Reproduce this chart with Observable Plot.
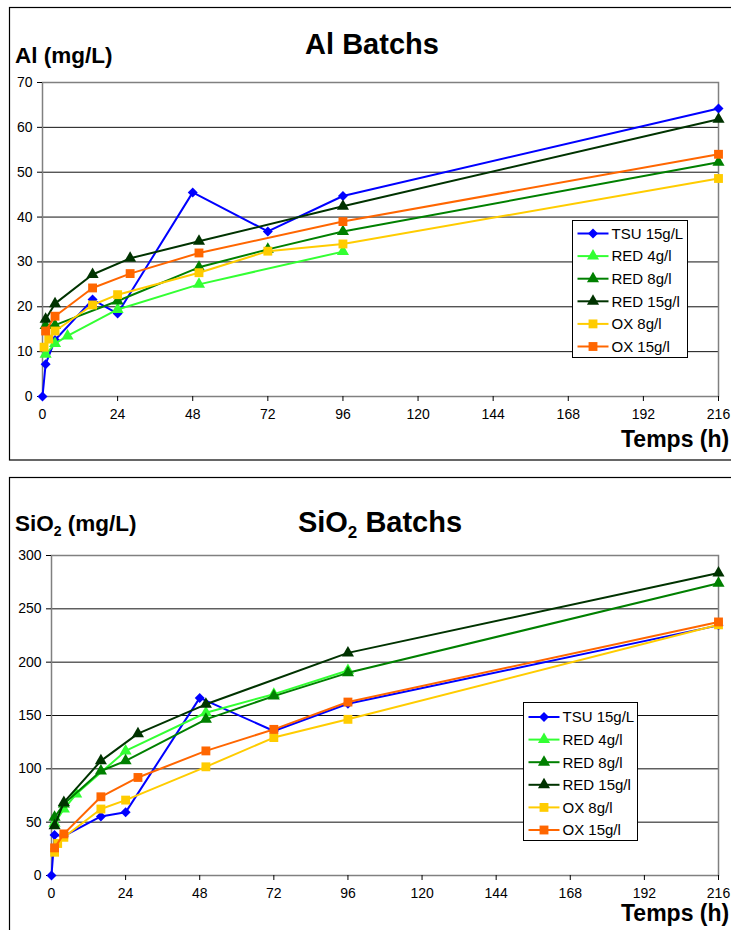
<!DOCTYPE html>
<html><head><meta charset="utf-8">
<script src="https://cdn.jsdelivr.net/npm/d3@7"></script>
<script src="https://cdn.jsdelivr.net/npm/@observablehq/plot@0.6"></script>
<style>
body{margin:0;background:#fff;}
#page{position:relative;width:731px;height:930px;overflow:hidden;font-family:"Liberation Sans",Arial,sans-serif;background:#fff;}
.layer{position:absolute;left:0;}
</style></head><body><div id="page"></div>
<script>
const seriesNames = ["TSU 15g/L","RED 4g/l","RED 8g/l","RED 15g/l","OX 8g/l","OX 15g/l"];
const seriesColors = ["#0000FF","#33FF33","#008000","#003300","#FFCC00","#FF6600"];
const seriesSymbols = ["diamond2","triangle","triangle","triangle","square","square"];
const seriesRadius = [4.5,4.5,4.5,4.5,5,5];
const xTicks = [0,24,48,72,96,120,144,168,192,216];
const alTicks = [0,10,20,30,40,50,60,70];
const siTicks = [0,50,100,150,200,250,300];

// Al (mg/L)
const alTSU_t = [0,1,4,16,24,48,72,96,216];
const alTSU_v = [0,7.2,12.6,21.6,18.5,45.5,36.8,44.7,64.2];
const alRED4_t = [1,4,8,24,50,96];
const alRED4_v = [9.4,11.8,13.5,19.4,25,32.3];
const alRED8_t = [1,4,24,50,72,96,216];
const alRED8_v = [15.8,15.9,21.3,28.8,32.8,36.8,52.2];
const alRED15_t = [1,4,16,28,50,96,216];
const alRED15_v = [17.2,20.7,27.2,30.8,34.6,42.4,61.8];
const alOX8_t = [0.5,2,4,16,24,50,72,96,216];
const alOX8_v = [11,12.8,14.6,20.4,22.7,27.6,32.4,34,48.6];
const alOX15_t = [1,4,16,28,50,96,216];
const alOX15_v = [14.6,17.9,24.2,27.4,32,39,54];

// SiO2 (mg/L)
const siTSU_t = [0,1,4,16,24,48,72,96,216];
const siTSU_v = [0,38,37,55.4,59.2,166.5,135.5,161,234.5];
const siRED4_t = [1,4,8,24,50,72,96];
const siRED4_v = [48.9,62.3,76.3,116.8,152.6,170,192.2];
const siRED8_t = [1,4,16,24,50,72,96,216];
const siRED8_v = [54.5,67,98,107.5,146.4,168.2,190,274];
const siRED15_t = [1,4,16,28,50,96,216];
const siRED15_v = [46.7,68.5,107.5,133,160.5,208.7,283.5];
const siOX8_t = [1,2,4,16,24,50,72,96,216];
const siOX8_v = [21.8,30,35.8,62.3,70.7,101.9,129.3,146.4,235];
const siOX15_t = [1,4,16,28,50,72,96,216];
const siOX15_v = [25.9,39,73.8,91.9,116.8,137,162.6,237.7];

function rowsOf(list) {
  return list.map(([t, v], i) => t.map((tt, j) => ({s: seriesNames[i], t: tt, v: v[j]})));
}
const alRows = rowsOf([[alTSU_t,alTSU_v],[alRED4_t,alRED4_v],[alRED8_t,alRED8_v],[alRED15_t,alRED15_v],[alOX8_t,alOX8_v],[alOX15_t,alOX15_v]]);
const siRows = rowsOf([[siTSU_t,siTSU_v],[siRED4_t,siRED4_v],[siRED8_t,siRED8_v],[siRED15_t,siRED15_v],[siOX8_t,siOX8_v],[siOX15_t,siOX15_v]]);

function makeChart(groups, yTicks, o) {
  const ymax = yTicks[yTicks.length - 1];
  const seriesMarks = [];
  groups.forEach((rows, i) => {
    seriesMarks.push(Plot.line(rows, {x: "t", y: "v", stroke: seriesColors[i], strokeWidth: 2}));
    seriesMarks.push(Plot.dot(rows, {x: "t", y: "v", fill: seriesColors[i], symbol: seriesSymbols[i], r: seriesRadius[i], stroke: "none"}));
  });
  return Plot.plot({
    width: 731, height: o.height,
    marginTop: o.mt, marginBottom: o.mb, marginLeft: o.ml, marginRight: 13,
    style: {fontFamily: '"Liberation Sans", Arial, sans-serif', fontSize: "14px", color: "#000", background: "transparent", overflow: "visible"},
    x: {domain: [0, 216], label: null},
    y: {domain: [0, ymax], label: null},
    marks: [
      Plot.gridY(yTicks, {stroke: "#111", strokeOpacity: 1, strokeWidth: 1}),
      Plot.frame({stroke: "#808080", strokeWidth: 1.5}),
      Plot.axisX(xTicks, {tickSize: 5, tickPadding: 8, label: null, fontSize: 14}),
      Plot.axisY(yTicks, {tickSize: 5, tickPadding: 5, label: null, fontSize: 14}),
      ...seriesMarks
    ]
  });
}

const page = document.getElementById("page");
const top1 = makeChart(alRows, alTicks, {height: 460, mt: 82, mb: 64, ml: 42});
top1.classList.add("layer"); top1.style.top = "0px";
page.appendChild(top1);
const top2 = makeChart(siRows, siTicks, {height: 460, mt: 85, mb: 55, ml: 51});
top2.classList.add("layer"); top2.style.top = "470px";
page.appendChild(top2);

// overlay: frames, titles, legends
const ns = "http://www.w3.org/2000/svg";
const ov = d3.create("svg").attr("class", "layer").attr("width", 731).attr("height", 930)
  .style("top", "0px").style("font-family", '"Liberation Sans", Arial, sans-serif');
ov.append("rect").attr("x", 9.5).attr("y", 7.5).attr("width", 740).attr("height", 452.5).attr("fill", "none").attr("stroke", "#000").attr("stroke-width", 1.2);
ov.append("rect").attr("x", 9.5).attr("y", 477.5).attr("width", 740).attr("height", 480).attr("fill", "none").attr("stroke", "#000").attr("stroke-width", 1.2);

const bold = (sel) => sel.attr("font-weight", "bold").attr("fill", "#000");
bold(ov.append("text").attr("x", 372).attr("y", 54).attr("text-anchor", "middle").attr("font-size", 29).text("Al Batchs"));
bold(ov.append("text").attr("x", 15).attr("y", 63).attr("font-size", 22.5).text("Al (mg/L)"));
bold(ov.append("text").attr("x", 621).attr("y", 447).attr("font-size", 23).text("Temps (h)"));

const t2 = bold(ov.append("text").attr("x", 380).attr("y", 532).attr("text-anchor", "middle").attr("font-size", 29));
t2.append("tspan").text("SiO");
t2.append("tspan").attr("font-size", 17).attr("dy", 6).text("2");
t2.append("tspan").attr("dy", -6).text(" Batchs");
const l2 = bold(ov.append("text").attr("x", 15).attr("y", 531).attr("font-size", 22.5));
l2.append("tspan").text("SiO");
l2.append("tspan").attr("font-size", 14).attr("dy", 5).text("2");
l2.append("tspan").attr("dy", -5).text(" (mg/L)");
bold(ov.append("text").attr("x", 621).attr("y", 921).attr("font-size", 23).text("Temps (h)"));

function legend(x, y, w, h, row0, step) {
  const g = ov.append("g");
  g.append("rect").attr("x", x).attr("y", y).attr("width", w).attr("height", h).attr("fill", "#fff").attr("stroke", "#000").attr("stroke-width", 1);
  seriesNames.forEach((name, i) => {
    const cy = row0 + i * step;
    g.append("line").attr("x1", x + 5).attr("x2", x + 36).attr("y1", cy).attr("y2", cy).attr("stroke", seriesColors[i]).attr("stroke-width", 2);
    const sym = seriesSymbols[i] === "diamond2" ? d3.symbolDiamond2 : seriesSymbols[i] === "triangle" ? d3.symbolTriangle : d3.symbolSquare;
    const r = seriesRadius[i];
    g.append("path").attr("d", d3.symbol(sym, Math.PI * r * r)()).attr("transform", `translate(${x + 20.5},${cy})`).attr("fill", seriesColors[i]);
    g.append("text").attr("x", x + 39).attr("y", cy + 5.3).attr("font-size", 15).attr("fill", "#000").text(name);
  });
}
legend(572.5, 220.5, 115, 137, 233.5, 22.6);
legend(523.5, 702.5, 114, 138, 717, 22.6);

page.appendChild(ov.node());
</script></body></html>
